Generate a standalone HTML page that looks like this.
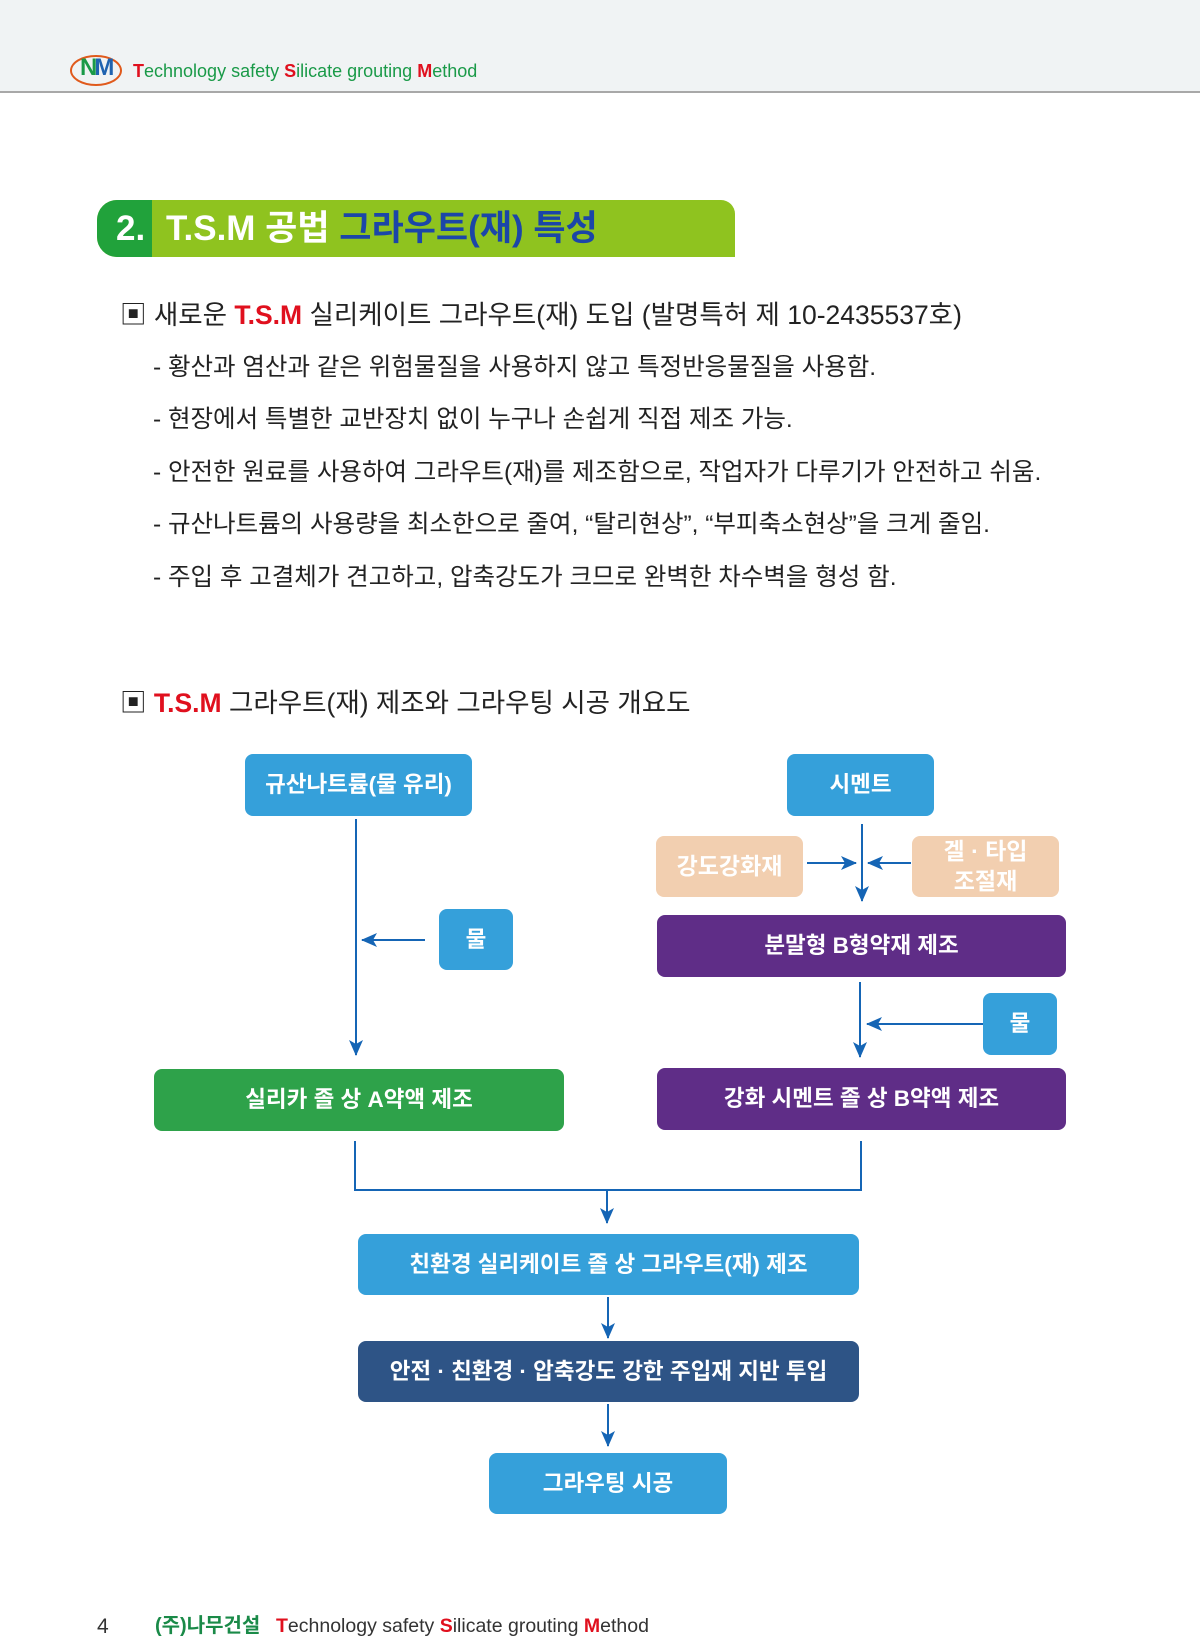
<!DOCTYPE html>
<html><head><meta charset="utf-8"><style>
body{margin:0;width:1200px;height:1646px;position:relative;background:#fff;font-family:"Liberation Sans","Noto Sans CJK KR",sans-serif;overflow:hidden}
.a{position:absolute}
.box{position:absolute;display:flex;align-items:center;justify-content:center;color:#fff;font-weight:bold;font-size:22.5px;border-radius:8px;text-align:center;line-height:1.3}
.b{background:#35a0da}.p{background:#5f2d87}.pe{background:#f2cfb0}
.t{position:absolute;font-size:24.5px;color:#222;white-space:nowrap;line-height:1}
.r{color:#e0101e;font-weight:bold}
</style></head><body>
<div class="a" style="left:0;top:0;width:1200px;height:91px;background:#f0f3f4;border-bottom:2px solid #a8a8a8"></div>
<div class="a" style="left:70px;top:55px;width:48px;height:27px;border:2px solid #e05a1c;border-radius:50%"></div>
<div class="a" style="left:80px;top:54px;font-size:24px;font-weight:bold;color:#1a9a48;letter-spacing:-3px">N<span style="color:#1f63b0">M</span></div>
<div class="t" style="left:133px;top:62px;font-size:18px;color:#1a9a48"><span class="r">T</span>echnology safety <span class="r">S</span>ilicate grouting <span class="r">M</span>ethod</div>

<div class="a" style="left:97px;top:200px;width:638px;height:57px;background:#8fc31f;border-radius:20px 14px 0 20px;overflow:hidden">
<div class="a" style="left:0;top:0;width:55px;height:57px;background:#21a23b"></div></div>
<div class="t" style="left:116px;top:211px;font-size:35px;font-weight:bold;color:#fff">2.</div>
<div class="t" style="left:166px;top:211px;font-size:35px;font-weight:bold;color:#fff">T.S.M 공법 <span style="color:#1b46a8">그라우트(재) 특성</span></div>

<div class="t" style="left:120px;top:302px;font-size:26.5px">▣ 새로운 <span class="r">T.S.M</span> 실리케이트 그라우트(재) 도입 (발명특허 제 10-2435537호)</div>
<div class="t" style="left:153px;top:356px">- 황산과 염산과 같은 위험물질을 사용하지 않고 특정반응물질을 사용함.</div>
<div class="t" style="left:153px;top:408px">- 현장에서 특별한 교반장치 없이 누구나 손쉽게 직접 제조 가능.</div>
<div class="t" style="left:153px;top:461px">- 안전한 원료를 사용하여 그라우트(재)를 제조함으로, 작업자가 다루기가 안전하고 쉬움.</div>
<div class="t" style="left:153px;top:513px">- 규산나트륨의 사용량을 최소한으로 줄여, “탈리현상”, “부피축소현상”을 크게 줄임.</div>
<div class="t" style="left:153px;top:566px">- 주입 후 고결체가 견고하고, 압축강도가 크므로 완벽한 차수벽을 형성 함.</div>
<div class="t" style="left:120px;top:690px;font-size:26.5px">▣ <span class="r">T.S.M</span> 그라우트(재) 제조와 그라우팅 시공 개요도</div>

<div class="box b" style="left:245px;top:754px;width:227px;height:62px">규산나트륨(물 유리)</div>
<div class="box b" style="left:787px;top:754px;width:147px;height:62px">시멘트</div>
<div class="box pe" style="left:656px;top:836px;width:147px;height:61px;font-size:23px">강도강화재</div>
<div class="box pe" style="left:912px;top:836px;width:147px;height:61px;font-size:23px">겔 · 타입<br>조절재</div>
<div class="box b" style="left:439px;top:909px;width:74px;height:61px">물</div>
<div class="box p" style="left:657px;top:915px;width:409px;height:62px">분말형 B형약재 제조</div>
<div class="box b" style="left:983px;top:993px;width:74px;height:62px">물</div>
<div class="box" style="left:154px;top:1069px;width:410px;height:62px;background:#2ea24a">실리카 졸 상 A약액 제조</div>
<div class="box p" style="left:657px;top:1068px;width:409px;height:62px">강화 시멘트 졸 상 B약액 제조</div>
<div class="box b" style="left:358px;top:1234px;width:501px;height:61px">친환경 실리케이트 졸 상 그라우트(재) 제조</div>
<div class="box" style="left:358px;top:1341px;width:501px;height:61px;background:#2e5486">안전 · 친환경 · 압축강도 강한 주입재 지반 투입</div>
<div class="box b" style="left:489px;top:1453px;width:238px;height:61px">그라우팅 시공</div>

<svg class="a" style="left:0;top:0" width="1200" height="1646">
<defs><marker id="m" markerWidth="16" markerHeight="14" refX="15" refY="7" orient="auto" markerUnits="userSpaceOnUse"><path d="M0,0L16,7L0,14L4,7z" fill="#1565b5"/></marker></defs>
<g stroke="#1565b5" stroke-width="2" fill="none">
<path d="M356 819V1055" marker-end="url(#m)"/>
<path d="M425 940H362" marker-end="url(#m)"/>
<path d="M862 824V901" marker-end="url(#m)"/>
<path d="M807 863H856" marker-end="url(#m)"/>
<path d="M911 863H868" marker-end="url(#m)"/>
<path d="M860 982V1057" marker-end="url(#m)"/>
<path d="M983 1024H867" marker-end="url(#m)"/>
<path d="M355 1141V1190H861V1141"/>
<path d="M607 1190V1223" marker-end="url(#m)"/>
<path d="M608 1297V1338" marker-end="url(#m)"/>
<path d="M608 1404V1446" marker-end="url(#m)"/>
</g></svg>

<div class="t" style="left:97px;top:1616px;font-size:21px;color:#333">4</div>
<div class="t" style="left:155px;top:1616px;font-size:20px;font-weight:bold;color:#1a8a48">(주)나무건설</div>
<div class="t" style="left:276px;top:1617px;font-size:19.5px;color:#333"><span class="r">T</span>echnology safety <span class="r">S</span>ilicate grouting <span class="r">M</span>ethod</div>
</body></html>
